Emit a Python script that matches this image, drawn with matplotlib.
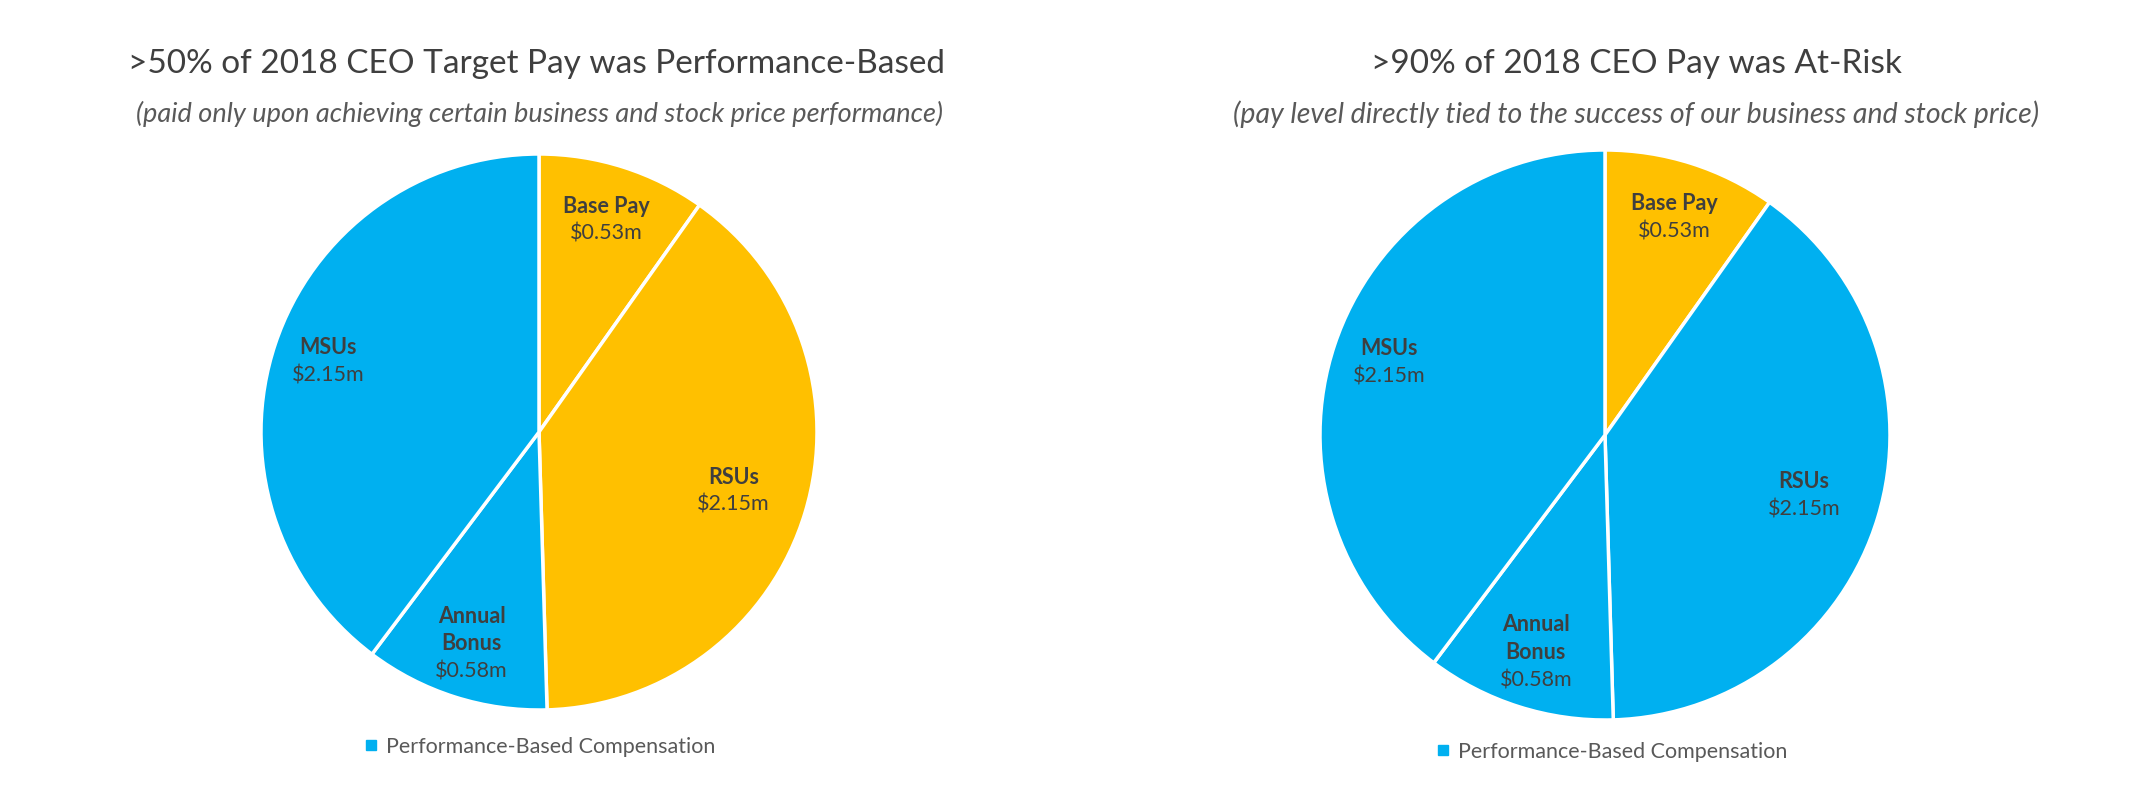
import matplotlib
matplotlib.use("Agg")
import matplotlib.pyplot as plt
from matplotlib.lines import Line2D
import numpy as np

plt.rcParams['font.family'] = ['Lato', 'DejaVu Sans']

# ---- data ----
categories = ["Base Pay", "RSUs", "Annual\nBonus", "MSUs"]
values = [0.53, 2.15, 0.58, 2.15]
value_labels = ["$0.53m", "$2.15m", "$0.58m", "$2.15m"]

BLUE = "#00B0F0"
YELLOW = "#FFC000"
colors_left = [YELLOW, YELLOW, BLUE, BLUE]
colors_right = [YELLOW, BLUE, BLUE, BLUE]

titles = [">50% of 2018 CEO Target Pay was Performance-Based",
          ">90% of 2018 CEO Pay was At-Risk"]
subtitles = ["(paid only upon achieving certain business and stock price performance)",
             "(pay level directly tied to the success of our business and stock price)"]
legend_label = "Performance-Based Compensation"

W, H = 2129, 787
fig = plt.figure(figsize=(W / 100, H / 100), dpi=100)
fig.patch.set_facecolor("white")

TEXT = "#3F3F3F"
SUB = "#595959"
LBL = 15.5


def fx(px):
    return px / W


def fy(py):
    return 1 - py / H


def draw_pie(cx, cy, r, colors, title, subtitle, tx, sx, sub_fs, legx, legy):
    size = 2 * r
    ax = fig.add_axes([fx(cx - r), fy(cy + r), size / W, size / H])
    wedges, _ = ax.pie(values, colors=colors, startangle=90, counterclock=False,
                       radius=1.0,
                       wedgeprops=dict(edgecolor="white", linewidth=2.5))
    ax.set_xlim(-1.0, 1.0)
    ax.set_ylim(-1.0, 1.0)
    ax.set_aspect("equal")
    ax.axis("off")

    dists = [0.80, 0.73, 0.80, 0.80]
    step = 0.098
    for w, name, val, d in zip(wedges, categories, value_labels, dists):
        mid = np.deg2rad((w.theta1 + w.theta2) / 2)
        x, y = d * np.cos(mid), d * np.sin(mid)
        lines = name.split("\n")
        n = len(lines)
        top = y + n * step / 2
        for i, line in enumerate(lines):
            ax.text(x, top - i * step, line, ha="center", va="center",
                    fontsize=LBL, color=TEXT, fontweight="bold")
        ax.text(x, top - n * step, val, ha="center", va="center",
                fontsize=LBL, color=TEXT)

    fig.text(fx(tx), fy(64), title, ha="center", va="center",
             fontsize=24, color=TEXT)
    fig.text(fx(sx), fy(114), subtitle, ha="center", va="center",
             fontsize=sub_fs, color=SUB, style="italic")
    handle = Line2D([], [], marker="s", linestyle="none", color=BLUE,
                    markersize=6.5)
    fig.legend([handle], [legend_label], loc="center left",
               bbox_to_anchor=(fx(legx), fy(legy)), frameon=False,
               fontsize=15.5, labelcolor=SUB, handletextpad=0.3,
               handlelength=0.8, borderaxespad=0, borderpad=0)
    return ax, wedges


draw_pie(539, 432, 278, colors_left, titles[0], subtitles[0],
         537, 539, 19.5, 362, 747)
draw_pie(1605, 435, 285, colors_right, titles[1], subtitles[1],
         1636, 1636, 20.5, 1434, 752)

fig.savefig("out.png", dpi=100, facecolor="white")
